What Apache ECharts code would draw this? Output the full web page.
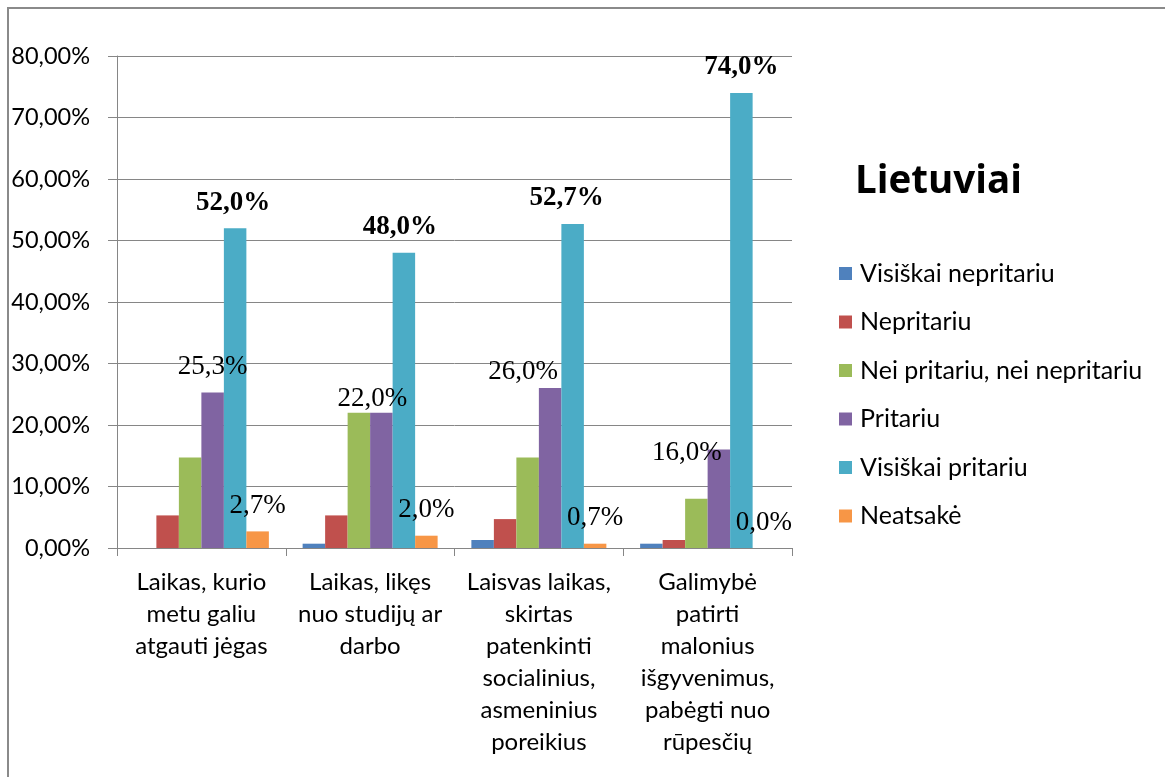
<!DOCTYPE html>
<html><head><meta charset="utf-8">
<script src="https://cdn.jsdelivr.net/npm/echarts@6/dist/echarts.min.js"></script>
<style>html,body{margin:0;padding:0;background:#fff}#c{width:1165px;height:777px}</style>
</head><body><div id="c"></div>
<script>
const categories = [
  'Laikas, kurio\nmetu galiu\natgauti jėgas',
  'Laikas, likęs\nnuo studijų ar\ndarbo',
  'Laisvas laikas,\nskirtas\npatenkinti\nsocialinius,\nasmeninius\nporeikius',
  'Galimybė\npatirti\nmalonius\nišgyvenimus,\npabėgti nuo\nrūpesčių'
];
const seriesNames = ['Visiškai nepritariu','Nepritariu','Nei pritariu, nei nepritariu','Pritariu','Visiškai pritariu','Neatsakė'];
const visiskaiNepritariu = [0.0, 0.7, 1.3, 0.7];
const nepritariu = [5.3, 5.3, 4.7, 1.3];
const neiPritariu = [14.7, 22.0, 14.7, 8.0];
const pritariu = [25.3, 22.0, 26.0, 16.0];
const visiskaiPritariu = [52.0, 48.0, 52.7, 74.0];
const neatsake = [2.7, 2.0, 0.7, 0.0];
const yTicks = [0, 10, 20, 30, 40, 50, 60, 70, 80];
const title = 'Lietuviai';

const colors = ['#4F81BD','#C0504D','#9BBB59','#8064A2','#4BACC6','#F79646'];
const uiFont = 'Lato';
const pct1 = v => v.toFixed(1).replace('.', ',') + '%';

function mkSeries(name, data, idx, label, offsets) {
  const s = {
    name, type: 'bar', data: data.map((v, i) => {
      const d = { value: v };
      if (offsets && offsets[i]) d.label = { offset: offsets[i] };
      return d;
    }),
    itemStyle: { color: colors[idx] },
    barGap: '0%', barCategoryGap: '20%'
  };
  if (label) {
    s.label = Object.assign({
      show: true, position: 'top', distance: 12,
      fontFamily: 'Liberation Serif', fontSize: 27, color: '#000',
      formatter: p => pct1(p.value)
    }, label);
  }
  return s;
}

const chart = echarts.init(document.getElementById('c'), null, { renderer: 'canvas' });
chart.setOption({
  animation: false,
  color: colors,
  graphic: [{
    type: 'rect', shape: { x: 8, y: 8, width: 1200, height: 800 },
    style: { fill: 'none', stroke: '#8a8a8a', lineWidth: 2 }, z: 0
  }],
  title: {
    text: title, left: 855, top: 163, padding: 0,
    textStyle: { fontFamily: 'Open Sans', fontWeight: 'bold', fontSize: 38.5, color: '#000' }
  },
  legend: {
    orient: 'vertical', left: 839, top: 261, padding: 0,
    icon: 'rect', itemWidth: 13, itemHeight: 13, itemGap: 23.5,
    textStyle: { fontFamily: uiFont, fontSize: 25, color: '#000', padding: [0,0,0,3] },
    data: seriesNames
  },
  grid: { left: 117, right: 373, top: 56, bottom: 229, containLabel: false },
  xAxis: {
    type: 'category', data: categories,
    axisLine: { lineStyle: { color: '#868686', width: 1 } },
    axisTick: { show: true, length: 8, lineStyle: { color: '#868686' } },
    axisLabel: { interval: 0, margin: 18, fontFamily: uiFont, fontSize: 24, lineHeight: 32, color: '#000' }
  },
  yAxis: {
    type: 'value', min: 0, max: 80, interval: 10,
    axisLine: { show: true, lineStyle: { color: '#868686', width: 1 } },
    axisTick: { show: true, length: 9, lineStyle: { color: '#868686' } },
    splitLine: { lineStyle: { color: '#868686', width: 1 } },
    axisLabel: { margin: 27, fontFamily: uiFont, fontSize: 23.5, color: '#000',
      formatter: v => yTicks.includes(v) ? v.toFixed(2).replace('.', ',') + '%' : '' }
  },
  series: [
    mkSeries(seriesNames[0], visiskaiNepritariu, 0),
    mkSeries(seriesNames[1], nepritariu, 1),
    mkSeries(seriesNames[2], neiPritariu, 2),
    mkSeries(seriesNames[3], pritariu, 3, {}, [null, [-9, 12], [-27, 9], [-32, 29]]),
    mkSeries(seriesNames[4], visiskaiPritariu, 4, { fontWeight: 'bold' }, [[-2, 0], [-4, 0], [-6, 0], null]),
    mkSeries(seriesNames[5], neatsake, 5, {})
  ]
});
</script></body></html>
